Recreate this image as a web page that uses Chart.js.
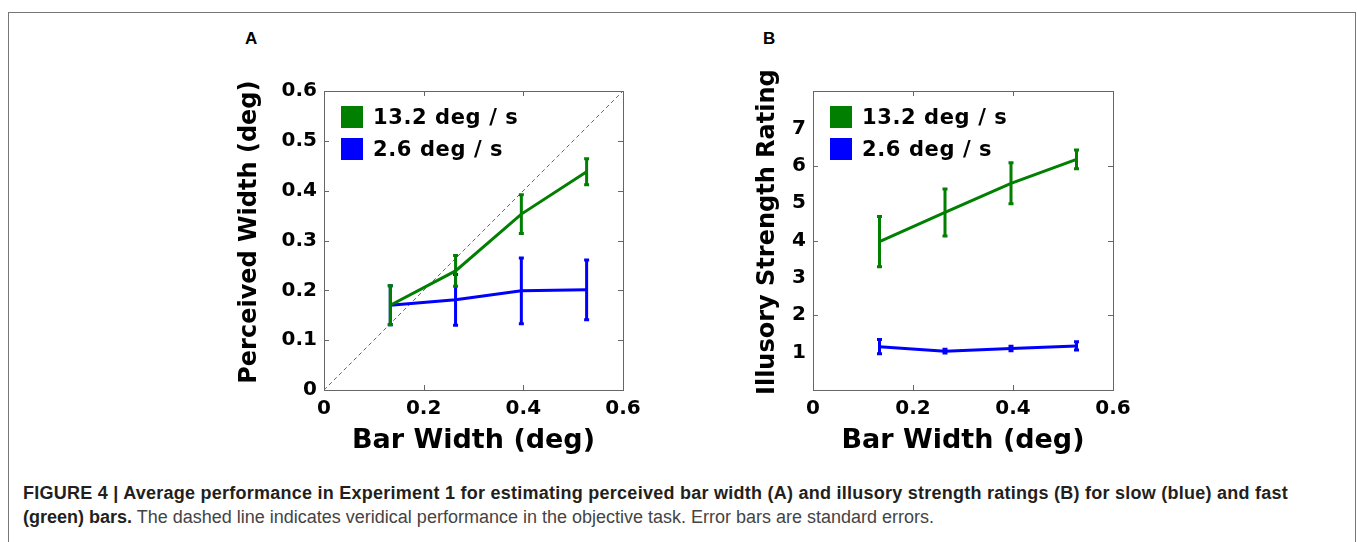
<!DOCTYPE html>
<html>
<head>
<meta charset="utf-8">
<script src="https://cdn.jsdelivr.net/npm/chart.js@4.4.1/dist/chart.umd.min.js"></script>
<style>
  html, body { margin: 0; padding: 0; background: #fff; }
  body { width: 1357px; height: 542px; position: relative; overflow: hidden; }
  .frame { position: absolute; left: 8px; top: 12px; width: 1346px; height: 600px; border: 1px solid #777; }
  .panel { position: absolute; top: 70px; }
  #panelA { left: 200px; }
  #panelB { left: 690px; }
  .letter { position: absolute; top: 30px; font: bold 17px/17px "Liberation Sans", Arial, sans-serif; color: #000; }
  .caption { position: absolute; left: 23px; top: 481px; width: 1320px; font: 18px/24px "Liberation Sans", Arial, sans-serif; color: #444; white-space: nowrap; }
  .caption b { color: #231f20; }
  .caption .wide { letter-spacing: 0.25px; }
</style>
</head>
<body>
<div class="frame"></div>
<div class="letter" style="left:245px">A</div>
<div class="letter" style="left:763px">B</div>
<canvas id="panelA" class="panel" width="440" height="400"></canvas>
<canvas id="panelB" class="panel" width="440" height="400"></canvas>
<div class="caption"><b class="wide">FIGURE 4 | Average performance in Experiment 1 for estimating perceived bar width (A) and illusory strength ratings (B) for slow (blue) and fast</b><br><b>(green) bars.</b> The dashed line indicates veridical performance in the objective task. Error bars are standard errors.</div>

<script>
const barWidths = [0.133, 0.264, 0.396, 0.527];
const speedLabels = ["13.2 deg / s", "2.6 deg / s"];

const widthFast = [0.170, 0.239, 0.353, 0.438];
const widthFastErr = [0.039, 0.031, 0.039, 0.026];
const widthSlow = [0.170, 0.181, 0.199, 0.201];
const widthSlowErr = [0.039, 0.051, 0.066, 0.060];
const veridical = [0, 0.6];

const ratingFast = [3.97, 4.75, 5.53, 6.17];
const ratingFastErr = [0.67, 0.63, 0.55, 0.25];
const ratingSlow = [1.16, 1.04, 1.11, 1.18];
const ratingSlowErr = [0.19, 0.05, 0.06, 0.11];

const GREEN = "#007f00";
const BLUE = "#0000ff";
const FONT = "'DejaVu Sans', Verdana, sans-serif";
const NB = "\u00a0\u00a0"; // nudges the rotated y titles up a little

function points(ys) {
  return barWidths.map((x, i) => ({ x, y: ys[i] }));
}

const errorBars = {
  id: "errorBars",
  afterDatasetDraw(chart, args) {
    const ds = chart.data.datasets[args.index];
    if (!ds.errors) return;
    const { ctx, scales: { x, y } } = chart;
    ctx.save();
    ctx.strokeStyle = ds.borderColor;
    ctx.lineWidth = 3;
    ds.data.forEach((pt, i) => {
      const px = x.getPixelForValue(pt.x);
      const top = y.getPixelForValue(pt.y + ds.errors[i]);
      const bottom = y.getPixelForValue(pt.y - ds.errors[i]);
      ctx.beginPath();
      ctx.moveTo(px, top);
      ctx.lineTo(px, bottom);
      ctx.moveTo(px - 2.5, top);
      ctx.lineTo(px + 2.5, top);
      ctx.moveTo(px - 2.5, bottom);
      ctx.lineTo(px + 2.5, bottom);
      ctx.stroke();
    });
    ctx.restore();
  }
};

// matlab style box with inward tick marks
const boxTicks = {
  id: "boxTicks",
  beforeDatasetsDraw(chart, args, opts) {
    const { ctx, chartArea: a, scales: { x, y } } = chart;
    const keep = opts.keepY || (() => true);
    const len = 5;
    ctx.save();
    ctx.strokeStyle = "#666";
    ctx.lineWidth = 1;
    ctx.strokeRect(Math.round(a.left) + 0.5, Math.round(a.top) + 0.5, Math.round(a.width), Math.round(a.height));
    ctx.beginPath();
    x.ticks.forEach((t) => {
      const px = Math.round(x.getPixelForValue(t.value)) + 0.5;
      ctx.moveTo(px, a.bottom);
      ctx.lineTo(px, a.bottom - len);
      ctx.moveTo(px, a.top);
      ctx.lineTo(px, a.top + len);
    });
    y.ticks.filter((t) => keep(t.value)).forEach((t) => {
      const py = Math.round(y.getPixelForValue(t.value)) + 0.5;
      ctx.moveTo(a.left, py);
      ctx.lineTo(a.left + len, py);
      ctx.moveTo(a.right, py);
      ctx.lineTo(a.right - len, py);
    });
    ctx.stroke();
    ctx.restore();
  }
};

const boxLegend = {
  id: "boxLegend",
  afterDraw(chart) {
    const { ctx, chartArea: a } = chart;
    const items = chart.data.datasets.filter((ds) => ds.label);
    ctx.save();
    ctx.font = `bold 21px ${FONT}`;
    ctx.letterSpacing = "0.6px";
    ctx.textBaseline = "middle";
    items.forEach((ds, i) => {
      const bx = a.left + 17;
      const by = a.top + 15 + i * 32;
      ctx.fillStyle = ds.borderColor;
      ctx.fillRect(bx, by, 22, 22);
      ctx.fillStyle = "#000";
      ctx.fillText(ds.label, bx + 32, by + 12.5);
    });
    ctx.restore();
  }
};

function lineSet(label, ys, errs, color) {
  return {
    label,
    data: points(ys),
    errors: errs,
    borderColor: color,
    backgroundColor: color,
    borderWidth: 3,
    pointRadius: 0,
    tension: 0,
    fill: false
  };
}

function makePanel(id, cfg) {
  return new Chart(document.getElementById(id), {
    type: "line",
    data: { datasets: cfg.datasets },
    options: {
      responsive: false,
      animation: false,
      devicePixelRatio: 1,
      layout: { padding: { top: 21, right: 17, left: 0, bottom: 0 } },
      plugins: {
        legend: { display: false },
        tooltip: { enabled: false },
        boxTicks: { keepY: cfg.keepY }
      },
      scales: {
        x: {
          type: "linear",
          min: 0,
          max: 0.6,
          grid: { display: false, drawTicks: false },
          border: { display: false },
          ticks: {
            stepSize: 0.2,
            padding: 7,
            color: "#000",
            maxRotation: 0,
            font: { family: FONT, size: 20, weight: "bold" },
            callback: (v) => String(+v.toFixed(1))
          },
          title: {
            display: true,
            text: "Bar Width (deg)",
            color: "#000",
            font: { family: FONT, size: 27, weight: "bold" },
            padding: { top: 0, bottom: 13 }
          },
          afterFit(s) {
            s.height = 80;
            s.paddingLeft = 0;
            s.paddingRight = 0;
          }
        },
        y: {
          type: "linear",
          min: cfg.yMin,
          max: cfg.yMax,
          grid: { display: false, drawTicks: false },
          border: { display: false },
          ticks: {
            stepSize: cfg.yStep,
            padding: 7,
            color: "#000",
            font: { family: FONT, size: 20, weight: "bold" },
            callback: cfg.yLabel
          },
          title: {
            display: true,
            text: NB + cfg.yTitle,
            color: "#000",
            font: { family: FONT, size: 24, weight: "bold" },
            padding: { top: cfg.yTitlePad, bottom: 0 }
          },
          afterFit(s) {
            s.width = cfg.yWidth;
            s.paddingTop = 0;
            s.paddingBottom = 0;
          }
        }
      }
    },
    plugins: [boxTicks, errorBars, boxLegend]
  });
}

makePanel("panelA", {
  datasets: [
    lineSet(speedLabels[0], widthFast, widthFastErr, GREEN),
    lineSet(speedLabels[1], widthSlow, widthSlowErr, BLUE),
    {
      data: veridical.map((v) => ({ x: v, y: v })),
      borderColor: "#666",
      borderWidth: 1,
      borderDash: [4, 3],
      pointRadius: 0,
      fill: false
    }
  ],
  yMin: 0,
  yMax: 0.6,
  yStep: 0.1,
  yLabel: (v) => String(+v.toFixed(1)),
  yTitle: "Perceived Width (deg)",
  yTitlePad: 35.6,
  yWidth: 124
});

makePanel("panelB", {
  datasets: [
    lineSet(speedLabels[0], ratingFast, ratingFastErr, GREEN),
    lineSet(speedLabels[1], ratingSlow, ratingSlowErr, BLUE)
  ],
  yMin: 0,
  yMax: 8,
  yStep: 1,
  yLabel: (v) => (v === 0 || v === 8 ? "" : String(v)),
  keepY: (v) => v % 2 === 0,
  yTitle: "Illusory Strength Rating",
  yTitlePad: 63.6,
  yWidth: 123
});
</script>
</body>
</html>
